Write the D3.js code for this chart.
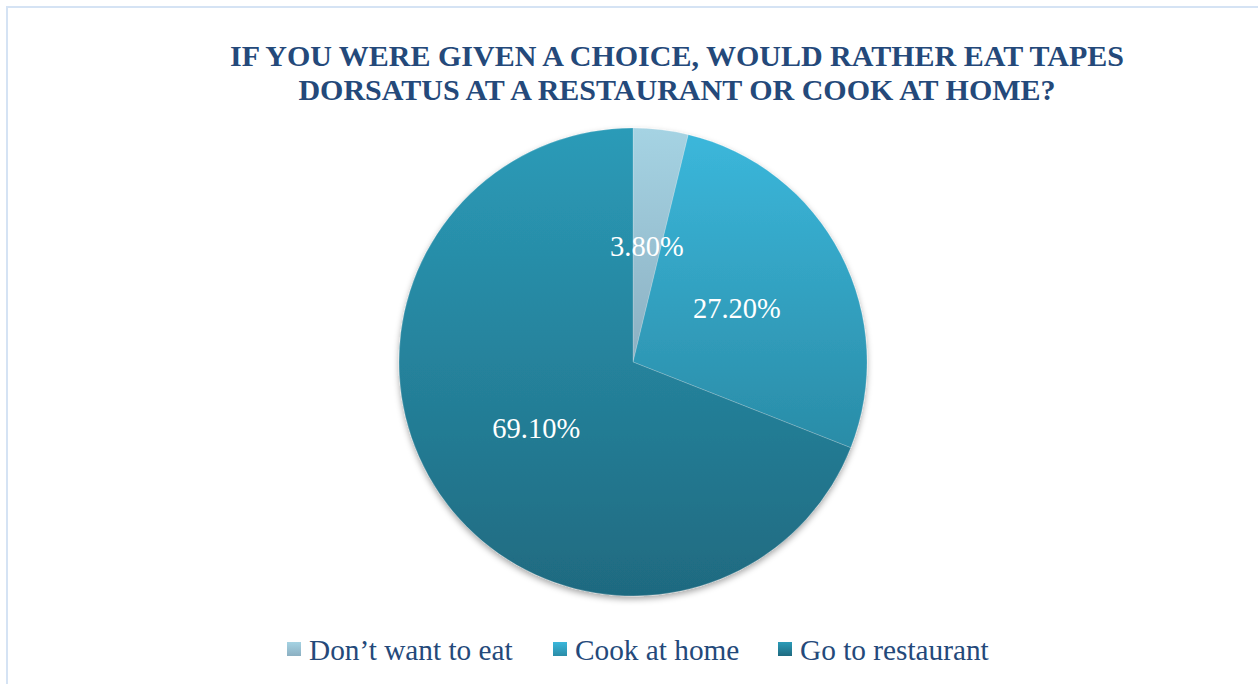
<!DOCTYPE html>
<html lang="en">
    <head>
        <meta charset="UTF-8">
        <title>Tapes dorsatus</title>
        <script type="text/javascript" src="https://cdnjs.cloudflare.com/ajax/libs/d3/7.8.5/d3.min.js"></script>
        <style>
            html, body { margin: 0; padding: 0; background: #fff; }
            svg { display: block; }
        </style>
    </head>
    <body>
        <div id="chart"></div>
        <script type="text/javascript">
            var categories = ['Don\u2019t want to eat', 'Cook at home', 'Go to restaurant'];
            var values = [3.8, 27.2, 69.1];
            var valueLabels = ['3.80%', '27.20%', '69.10%'];
            var titleLines = ['IF YOU WERE GIVEN A CHOICE, WOULD RATHER EAT TAPES',
                'DORSATUS AT A RESTAURANT OR COOK AT HOME?'];

            // gradient stops per slice (top, bottom)
            var COLORS = [['#a5d3e3', '#8cb0c2'], ['#3bb7db', '#2a8ca7'], ['#2b9bb8', '#1f6a80']];

            var W = 1258, H = 684;
            var CX = 633, CY = 362, R = 234;
            var TEXT_COLOR = '#24497a';
            var FONT = '"Liberation Serif", "Times New Roman", serif';

            var svg = d3.select('#chart').append('svg')
                .attr('width', W)
                .attr('height', H);

            var defs = svg.append('defs');

            COLORS.forEach(function (c, i) {
                var g = defs.append('linearGradient')
                    .attr('id', 'grad' + i)
                    .attr('x1', 0).attr('y1', 0)
                    .attr('x2', 0).attr('y2', 1);
                g.append('stop').attr('offset', '0%').attr('stop-color', c[0]);
                g.append('stop').attr('offset', '100%').attr('stop-color', c[1]);
            });

            var shadow = defs.append('filter')
                .attr('id', 'shadow')
                .attr('x', '-10%').attr('y', '-10%')
                .attr('width', '120%').attr('height', '120%');
            shadow.append('feDropShadow')
                .attr('dx', 0).attr('dy', 3)
                .attr('stdDeviation', 3)
                .attr('flood-color', '#000')
                .attr('flood-opacity', 0.35);

            // chart area border
            svg.append('rect')
                .attr('x', 7).attr('y', 7)
                .attr('width', W + 20).attr('height', H + 20)
                .attr('fill', 'none')
                .attr('stroke', '#d5e3f4')
                .attr('stroke-width', 2);

            // title
            svg.append('text')
                .attr('text-anchor', 'middle')
                .style('font-family', FONT)
                .attr('font-weight', 'bold')
                .attr('font-size', 30)
                .attr('fill', TEXT_COLOR)
                .selectAll('tspan')
                .data(titleLines)
                .join('tspan')
                .attr('x', 677)
                .attr('y', function (d, i) { return 66 + i * 34; })
                .text(function (d) { return d; });

            var pie = d3.pie().sort(null).value(function (d) { return d; });
            var arcs = pie(values);
            var arc = d3.arc().innerRadius(0).outerRadius(R);

            var pieGroup = svg.append('g')
                .attr('transform', 'translate(' + CX + ',' + CY + ')');

            pieGroup.append('g')
                .attr('filter', 'url(#shadow)')
                .selectAll('path')
                .data(arcs)
                .join('path')
                .attr('d', arc)
                .attr('fill', function (d, i) { return 'url(#grad' + i + ')'; })
                .attr('stroke', 'rgba(255,255,255,0.25)')
                .attr('stroke-width', 0.75);

            // data labels
            pieGroup.selectAll('text.label')
                .data(arcs)
                .join('text')
                .attr('class', 'label')
                .attr('transform', function (d) {
                    var c = arc.centroid(d);
                    return 'translate(' + c[0] + ',' + c[1] + ')';
                })
                .attr('text-anchor', 'middle')
                .attr('dy', '0.35em')
                .style('font-family', FONT)
                .attr('font-size', 28.5)
                .attr('fill', '#fff')
                .text(function (d, i) { return valueLabels[i]; });

            // legend
            var legendX = [287, 553, 778];
            var legend = svg.append('g').selectAll('g')
                .data(categories)
                .join('g')
                .attr('transform', function (d, i) { return 'translate(' + legendX[i] + ',642)'; });

            legend.append('rect')
                .attr('width', 14).attr('height', 14)
                .attr('fill', function (d, i) { return 'url(#grad' + i + ')'; });

            legend.append('text')
                .attr('x', 22)
                .attr('y', 18)
                .style('font-family', FONT)
                .attr('font-size', 29.3)
                .attr('fill', TEXT_COLOR)
                .text(function (d) { return d; });
        </script>
    </body>
</html>
